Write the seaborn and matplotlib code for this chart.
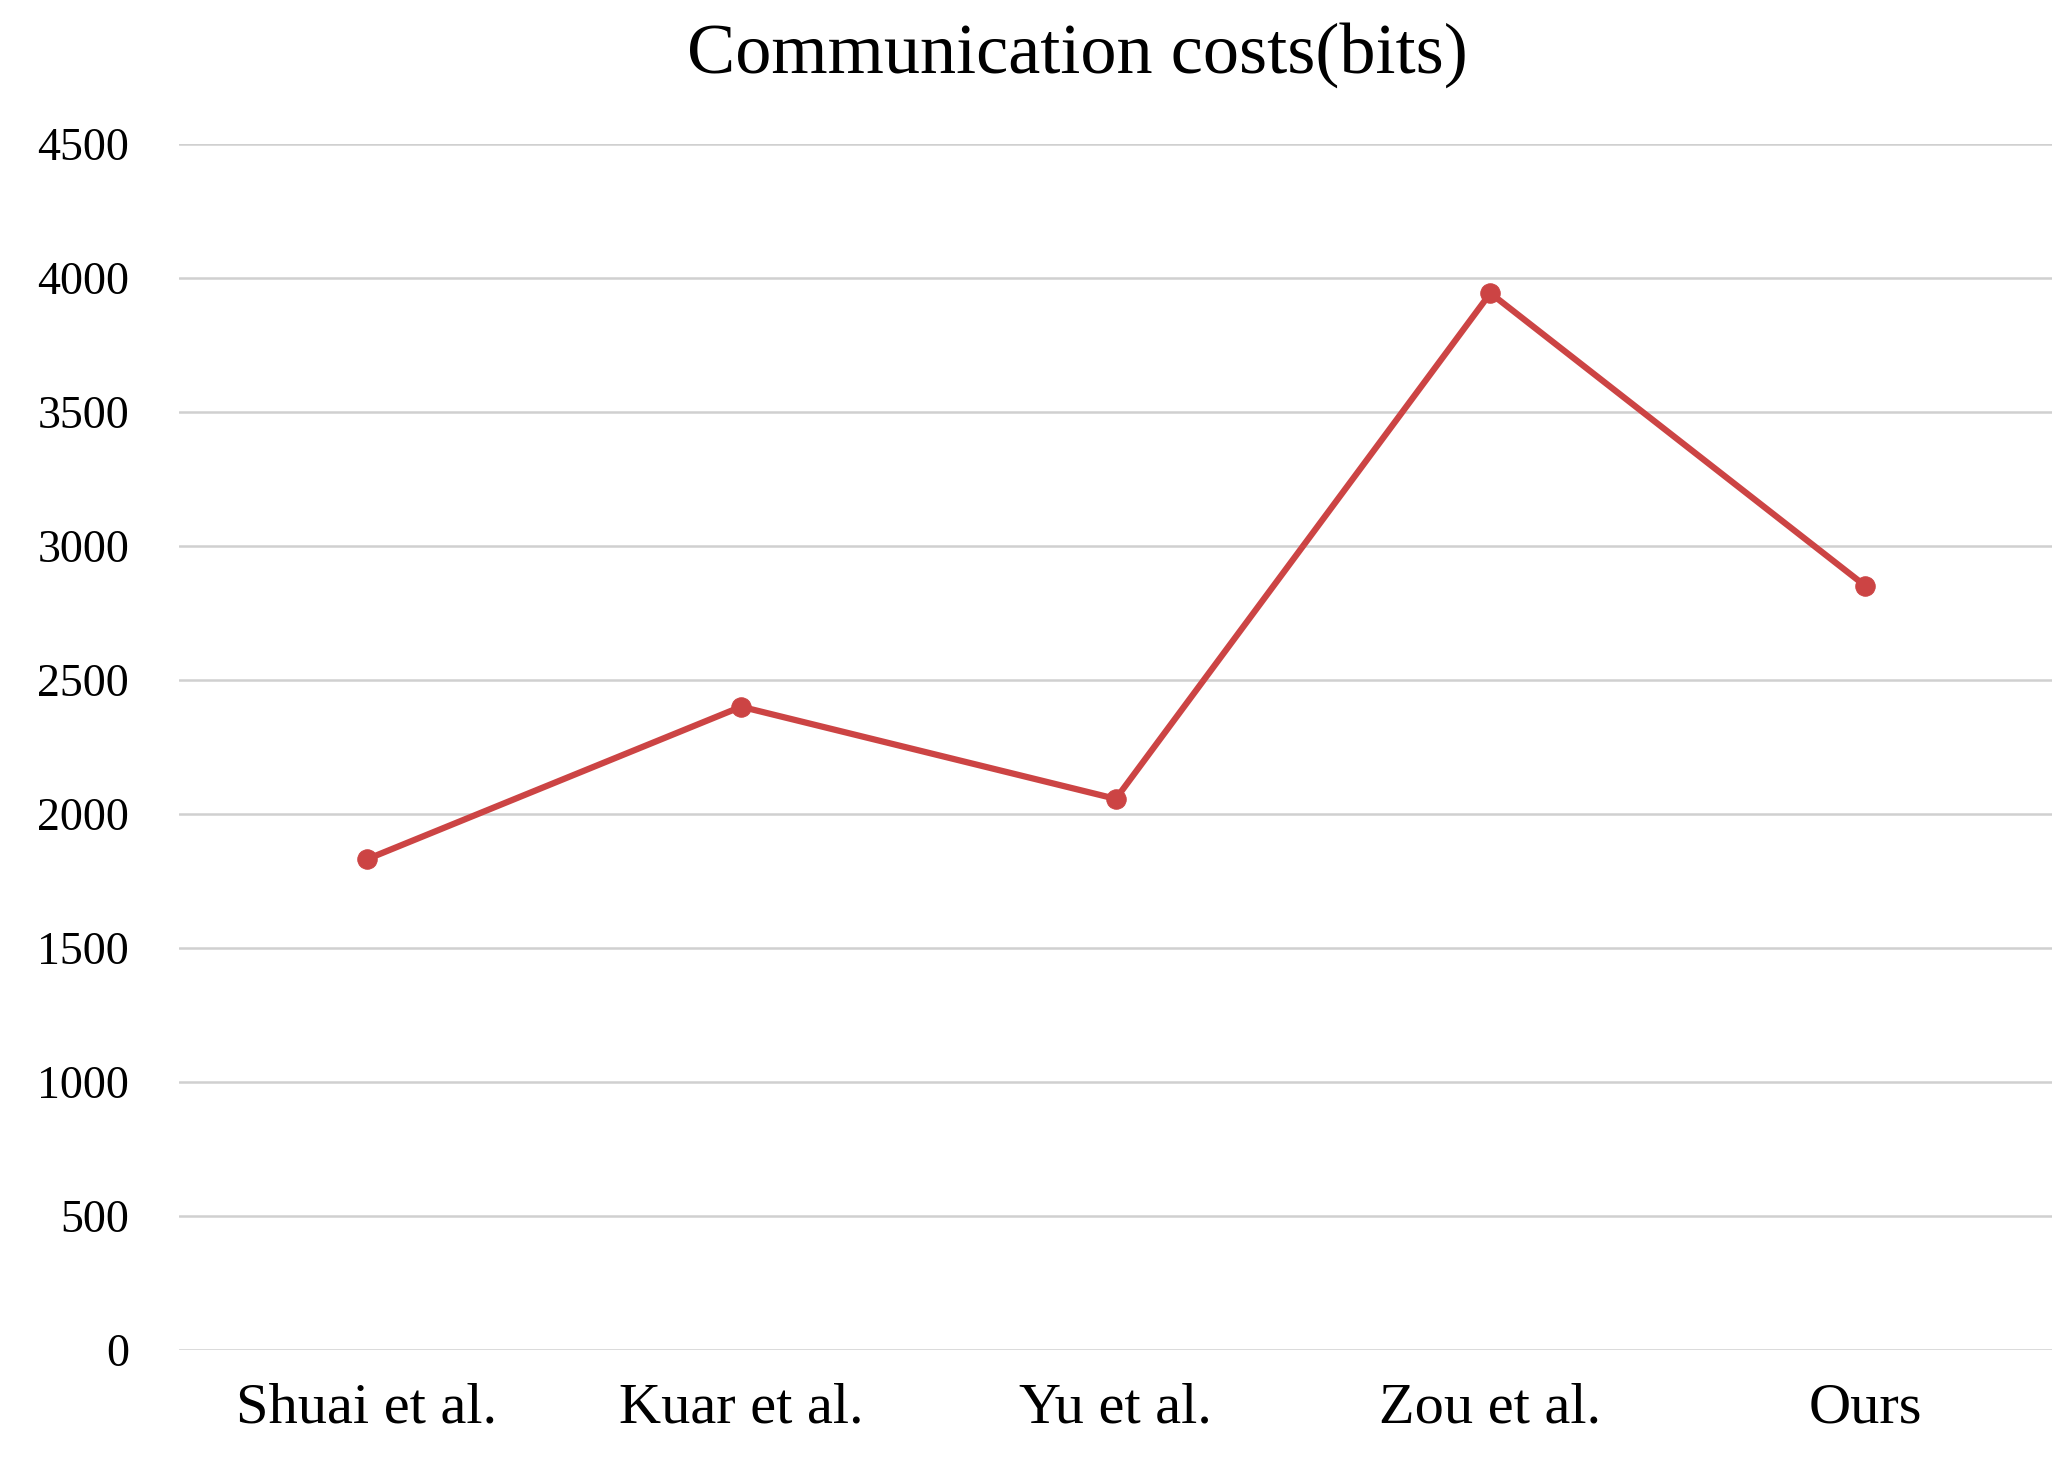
import matplotlib
matplotlib.use("Agg")
import matplotlib.pyplot as plt
import seaborn as sns
import pandas as pd

categories = ["Shuai et al.", "Kuar et al.", "Yu et al.", "Zou et al.", "Ours"]
costs = [1830, 2400, 2056, 3944, 2852]
yticks = [0, 500, 1000, 1500, 2000, 2500, 3000, 3500, 4000, 4500]

sns.set_style("white")
plt.rcParams['font.family'] = ['Liberation Serif', 'DejaVu Serif']
plt.rcParams['text.color'] = 'black'
plt.rcParams['xtick.color'] = 'black'
plt.rcParams['ytick.color'] = 'black'

df = pd.DataFrame({"x": range(len(categories)), "cost": costs})
fig = plt.figure(figsize=(20.72, 14.79), dpi=100)
ax = fig.add_axes([0.0865, 0.0875, 0.904, 0.815])
sns.lineplot(data=df, x="x", y="cost", ax=ax, color="#cc4444", linewidth=4.5,
             marker="o", markersize=14, markeredgecolor="#cc4444")
ax.set_xlim(-0.5, 4.5)
ax.set_ylim(0, 4500)
ax.set_yticks(yticks)
ax.set_yticklabels([str(t) for t in yticks], fontsize=33)
ax.set_xticks(range(len(categories)))
ax.set_xticklabels(categories, fontsize=42)
ax.tick_params(axis='y', length=0, pad=36)
ax.tick_params(axis='x', length=0, pad=24)
ax.yaxis.grid(True, color="#d0d0d0", linewidth=1.8)
for s in ["top", "right", "left", "bottom"]:
    ax.spines[s].set_visible(False)
ax.set_xlabel("")
ax.set_ylabel("")
fig.suptitle("Communication costs(bits)", fontsize=52, y=0.985, x=0.52)
fig.savefig("out.png", dpi=100)
